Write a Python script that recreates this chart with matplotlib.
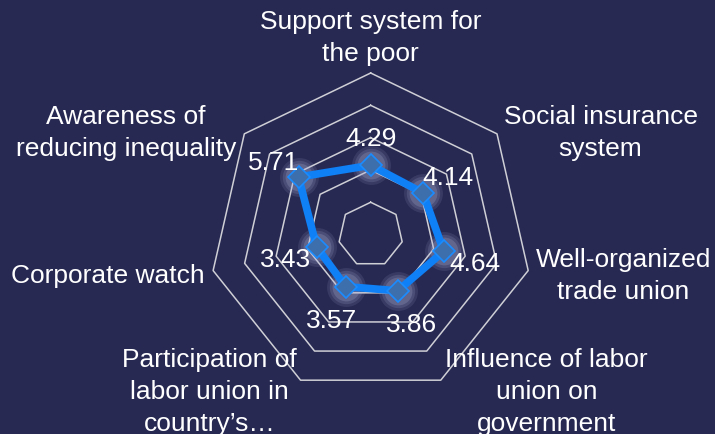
import numpy as np
import matplotlib.pyplot as plt

plt.rcParams['font.family'] = ['Liberation Sans', 'DejaVu Sans']

# Data
categories = ['Support system for\nthe poor',
              'Social insurance\nsystem',
              'Well-organized\ntrade union',
              'Influence of labor\nunion on\ngovernment',
              'Participation of\nlabor union in\ncountry\u2019s\u2026',
              'Corporate watch',
              'Awareness of\nreducing inequality']
values = [4.29, 4.14, 4.64, 3.86, 3.57, 3.43, 5.71]
grid_levels = [2, 4, 6, 8, 10]

# Style
bg = '#272953'
grid_col = '#cfcfd6'
line_col = '#0f80f5'
marker_face = '#3d6fad'
glow_col = '#b4b8de'
fs = 19

# label anchors in pixels (center x, first baseline y from top)
label_px = [(370.7, 29.3), (600.5, 124.3), (623.5, 266.7), (546.5, 367.3),
            (209.5, 367.3), (107.8, 283.3), (126.0, 124.3)]

W, H = 715, 435
fig = plt.figure(figsize=(W / 100, H / 100), dpi=100, facecolor=bg)
ax = fig.add_axes([0.2924, 0.0869, 0.452, 0.743], projection='polar')
ax.set_facecolor(bg)
ax.patch.set_alpha(0)
ax.set_theta_offset(np.pi / 2)
ax.set_theta_direction(-1)
ax.set_ylim(0, 10)
ax.grid(False)
ax.spines['polar'].set_visible(False)
ax.set_xticks([])
ax.set_yticks([])

n = len(values)
angles = [2 * np.pi * i / n for i in range(n)]
closed_a = angles + angles[:1]

# heptagon gridlines
for lvl in grid_levels:
    ax.plot(closed_a, [lvl] * (n + 1), color=grid_col, lw=1.1, zorder=1, clip_on=False)

# soft glow behind markers
for ms, al in [(28, 0.12), (24, 0.16), (20, 0.22)]:
    ax.plot(angles, values, 'o', ms=ms, color=glow_col, alpha=al, mec='none', zorder=2, clip_on=False)

ax.plot(closed_a, values + values[:1], color=line_col, lw=5.5, zorder=3, solid_joinstyle='round', clip_on=False)
ax.plot(angles, values, 'D', ms=11, mfc=marker_face, mec='#1a8cff', mew=1.2, zorder=4, clip_on=False)

# data labels pushed out radially from each point
for a, v in zip(angles, values):
    th = np.pi / 2 - a
    dx = 32 * np.cos(th)
    dy = 32 * np.sin(th) - 2
    ax.annotate('{:.2f}'.format(v), xy=(a, v), xytext=(dx, dy), textcoords='offset pixels',
                ha='center', va='center_baseline', color='white', fontsize=fs, zorder=5)

# category labels
for lab, (px, py) in zip(categories, label_px):
    fig.text(px / W, 1 - (py - 19.2) / H, lab, ha='center', va='top', color='white',
             fontsize=fs, linespacing=1.43)

fig.savefig('out.png', dpi=100, facecolor=bg)
